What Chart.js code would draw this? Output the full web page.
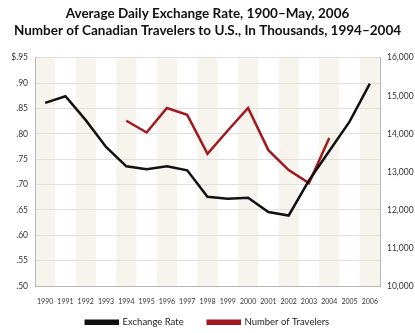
<!DOCTYPE html>
<html>
<head>
<meta charset="utf-8">
<script src="https://cdn.jsdelivr.net/npm/chart.js@4"></script>
<style>
  html, body { margin: 0; padding: 0; background: #fff; }
  #wrap { width: 415px; height: 333px; position: relative; }
</style>
</head>
<body>
<div id="wrap"><canvas id="chart"></canvas></div>
<script>
var years = ["1990","1991","1992","1993","1994","1995","1996","1997","1998",
             "1999","2000","2001","2002","2003","2004","2005","2006"];
var exchangeRate = [0.861, 0.874, 0.827, 0.774, 0.736, 0.730, 0.736, 0.728, 0.676,
                    0.672, 0.674, 0.646, 0.639, 0.708, 0.766, 0.824, 0.899];
var travelers = [null, null, null, null, 14344, 14035, 14679, 14498, 13476,
                 14087, 14679, 13571, 13047, 12704, 13890, null, null];

var font = "Lato, sans-serif";

// cream bands behind every other year
var bands = {
  id: 'bands',
  beforeDraw: function(chart) {
    var ctx = chart.ctx, x = chart.scales.x, area = chart.chartArea;
    var w = x.getPixelForValue(1) - x.getPixelForValue(0);
    ctx.save();
    ctx.fillStyle = '#f6f4ec';
    for (var i = 0; i < years.length; i += 2) {
      var c = x.getPixelForValue(i);
      ctx.fillRect(c - w / 2, area.top, w, area.bottom - area.top);
    }
    ctx.restore();
  }
};

new Chart(document.getElementById("chart"), {
  type: "line",
  data: {
    labels: years,
    datasets: [
      { label: "Exchange Rate", data: exchangeRate, yAxisID: "y",
        borderColor: "#111", backgroundColor: "#111", borderWidth: 2.5 },
      { label: "Number of Travelers", data: travelers, yAxisID: "y1",
        borderColor: "#a3181e", backgroundColor: "#a3181e", borderWidth: 2.5 }
    ]
  },
  options: {
    responsive: true,
    maintainAspectRatio: false,
    animation: false,
    elements: { point: { radius: 0 }, line: { tension: 0 } },
    layout: { padding: { left: 0, right: 0, top: 0, bottom: -4 } },
    plugins: {
      title: {
        display: true,
        text: ["Average Daily Exchange Rate, 1900\u2013May, 2006",
               "Number of Canadian Travelers to U.S., In Thousands, 1994\u20132004"],
        color: "#111",
        font: { family: font, size: 13.5, weight: "bold", lineHeight: 1.25 },
        padding: { top: 5, bottom: 19 }
      },
      legend: {
        position: "bottom",
        labels: {
          boxWidth: 32, boxHeight: 3, padding: 9.5, color: "#222",
          font: { family: font, size: 9.5 },
          generateLabels: function(chart) {
            var items = Chart.defaults.plugins.legend.labels.generateLabels(chart);
            // widen the gap between the two entries
            items[0].text += "      ";
            return items;
          }
        }
      },
      tooltip: { enabled: false }
    },
    scales: {
      x: {
        offset: true,
        grid: { display: false, drawTicks: false },
        border: { display: true, color: "#b8b8b8" },
        ticks: { color: "#333", maxRotation: 0, autoSkip: false, padding: 12,
                 font: { family: font, size: 7 } },
        afterFit: function(s) { s.height = 22; }
      },
      y: {
        position: "left",
        min: 0.5, max: 0.95,
        ticks: { stepSize: 0.05, color: "#333", padding: 7,
                 font: { family: font, size: 8.5 },
                 callback: function(v) {
                   var t = v.toFixed(2).replace(/^0/, "");
                   return Math.abs(v - 0.95) < 1e-6 ? "$" + t : t;
                 } },
        grid: { color: "#e4dfdf", drawTicks: false },
        border: { color: "#b8b8b8" },
        afterFit: function(s) { s.width = 35; }
      },
      y1: {
        position: "right",
        min: 10000, max: 16000,
        ticks: { stepSize: 1000, color: "#333", padding: 7,
                 font: { family: font, size: 8.5 },
                 callback: function(v) { return v.toLocaleString("en-US"); } },
        grid: { drawOnChartArea: false, drawTicks: false },
        border: { color: "#b8b8b8" },
        afterFit: function(s) { s.width = 35; }
      }
    }
  },
  plugins: [bands]
});
</script>
</body>
</html>
